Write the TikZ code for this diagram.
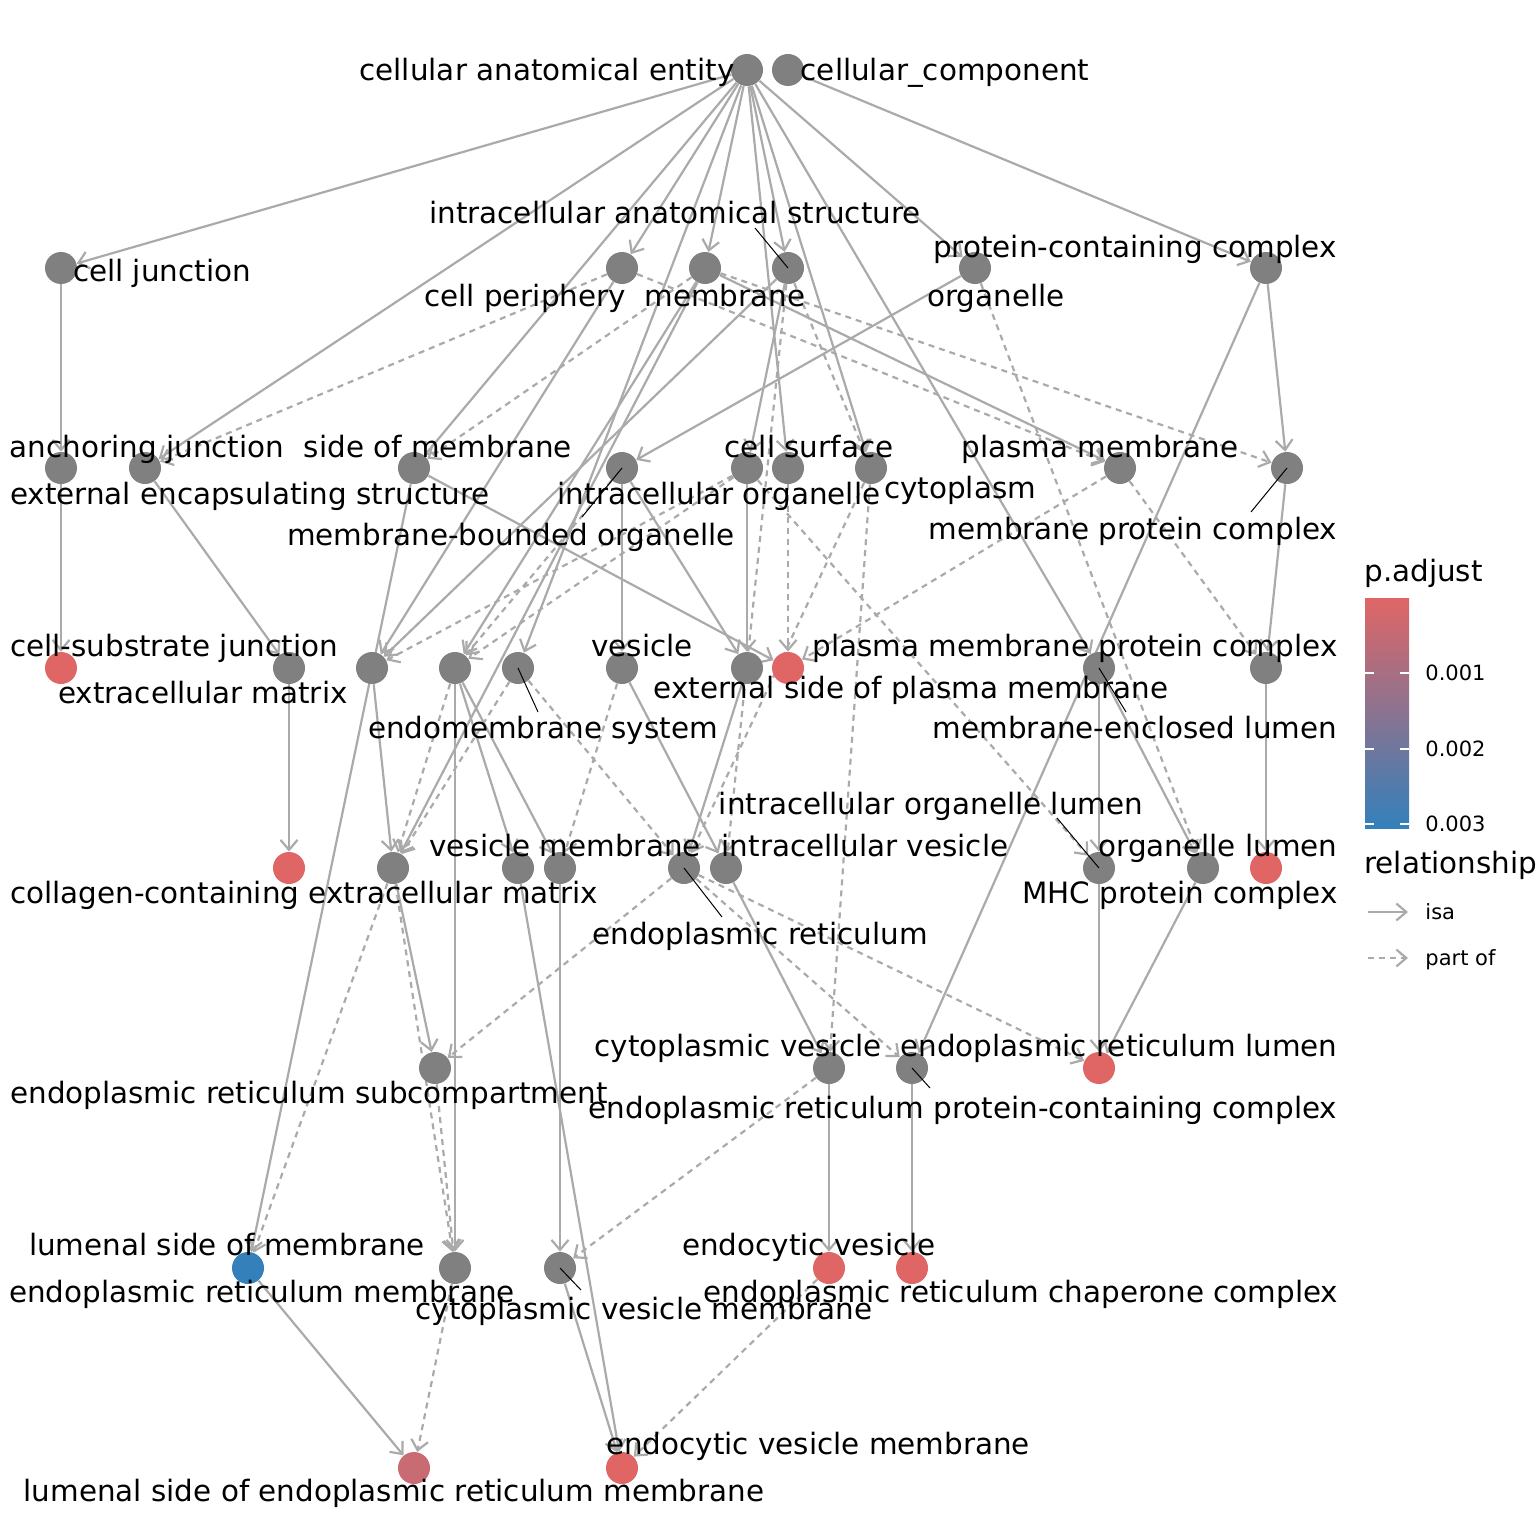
\documentclass[tikz,border=0pt]{standalone}
\usepackage{fontspec}
\setmainfont{DejaVu Sans}
\usetikzlibrary{arrows.meta}
\definecolor{ngray}{HTML}{808080}
\definecolor{nred}{HTML}{E06666}
\definecolor{nblue}{HTML}{3380BB}
\definecolor{npink}{HTML}{C96B72}
\definecolor{egray}{HTML}{AAAAAA}
\pgfdeclarelayer{bg}
\pgfsetlayers{bg,main}
\begin{document}
\begin{tikzpicture}[x=0.5pt,y=-0.5pt,
  gnode/.style={circle,fill=ngray,draw=none,minimum size=16pt,inner sep=0pt},
  rnode/.style={gnode,fill=nred},
  bnode/.style={gnode,fill=nblue},
  pnode/.style={gnode,fill=npink},
  isaedge/.style={draw=egray,line width=1.1pt,-{Straight Barb[length=5pt,width=8.5pt]}},
  partedge/.style={isaedge,dash pattern=on 3pt off 2.5pt},
  lbl/.style={font=\fontsize{14.7}{17}\selectfont,inner sep=0pt,anchor=base},
  leg/.style={font=\fontsize{10.5}{12}\selectfont,inner sep=0pt,anchor=base west},
  leader/.style={draw=black,line width=0.5pt}]
\useasboundingbox (0,0) rectangle (1536,1536);
% nodes
\node[gnode] (A0) at (747,70) {};
\node[gnode] (A1) at (788,70) {};
\node[gnode] (B1) at (61,268) {};
\node[gnode] (B2) at (622,268) {};
\node[gnode] (B3) at (705,268) {};
\node[gnode] (B4) at (788,268) {};
\node[gnode] (B5) at (975,268) {};
\node[gnode] (B6) at (1266,268) {};
\node[gnode] (C1) at (61,468) {};
\node[gnode] (C2) at (145,468) {};
\node[gnode] (C3) at (414,468) {};
\node[gnode] (C4) at (622,468) {};
\node[gnode] (C5) at (747,468) {};
\node[gnode] (C6) at (788,468) {};
\node[gnode] (C7) at (871,468) {};
\node[gnode] (C8) at (1120,468) {};
\node[gnode] (C9) at (1287,468) {};
\node[rnode] (D1) at (61,668) {};
\node[gnode] (D2) at (289,668) {};
\node[gnode] (D3) at (372,668) {};
\node[gnode] (D4) at (455,668) {};
\node[gnode] (D5) at (518,668) {};
\node[gnode] (D6) at (622,668) {};
\node[gnode] (D7) at (747,668) {};
\node[rnode] (D8) at (788,668) {};
\node[gnode] (D9) at (1099,668) {};
\node[gnode] (D10) at (1266,668) {};
\node[rnode] (E1) at (289,868) {};
\node[gnode] (E2) at (393,868) {};
\node[gnode] (E3) at (518,868) {};
\node[gnode] (E4) at (560,868) {};
\node[gnode] (E5) at (684,868) {};
\node[gnode] (E6) at (726,868) {};
\node[gnode] (E7) at (1099,868) {};
\node[gnode] (E8) at (1203,868) {};
\node[rnode] (E9) at (1266,868) {};
\node[gnode] (F1) at (435,1068) {};
\node[gnode] (F2) at (829,1068) {};
\node[gnode] (F3) at (912,1068) {};
\node[rnode] (F4) at (1099,1068) {};
\node[bnode] (G1) at (248,1268) {};
\node[gnode] (G2) at (455,1268) {};
\node[gnode] (G3) at (560,1268) {};
\node[rnode] (G4) at (829,1268) {};
\node[rnode] (G5) at (912,1268) {};
\node[pnode] (H1) at (414,1468) {};
\node[rnode] (H2) at (622,1468) {};
% edges
\begin{pgfonlayer}{bg}
\foreach \s/\t in {A0/B1,A0/B2,A0/B3,A0/B4,A0/B5,A0/C2,A0/C3,A0/C6,A0/C7,A0/D9,A0/D5,
  A1/B6,B1/C1,C1/D1,C2/D2,D2/E1,B3/C8,B6/C9,C9/D10,D10/E9,B6/F3,B5/C4,B4/C5,
  C4/D6,C4/D7,C5/D7,C3/D8,C3/G1,B2/D3,B4/D3,B3/D4,B3/E2,D3/E2,D4/G2,D4/E3,D4/E4,
  E4/G3,E3/H2,G3/H2,D6/E6,E6/F2,F2/G4,D7/E5,F3/G5,D9/E7,E7/F4,D9/E8,E8/F4,E2/F1,G1/H1}
  \draw[isaedge] (\s) -- (\t);
\foreach \s/\t in {B2/C2,B3/C3,B2/C8,B3/C9,B4/C7,B5/E8,C8/D8,C8/D10,C7/F2,C7/E5,
  F2/G3,G4/H2,G2/H1,E5/F1,E5/F3,E5/F4,D5/E5,D5/E2,D6/E4,C5/E7,C5/D3,C5/D4,C4/D4,
  C6/D8,B4/E6,D4/E2,E2/G1,E2/G2,F1/G2}
  \draw[partedge] (\s) -- (\t);
\end{pgfonlayer}
% leader lines
\coordinate (l1) at (755,228); \draw[leader] (l1) -- (B4.center);
\coordinate (l2) at (582,517); \draw[leader] (l2) -- (C4.center);
\coordinate (l3) at (1251,512); \draw[leader] (l3) -- (C9.center);
\coordinate (l4) at (538,712); \draw[leader] (l4) -- (D5.center);
\coordinate (l5) at (1126,712); \draw[leader] (l5) -- (D9.center);
\coordinate (l6) at (1057,818); \draw[leader] (l6) -- (E7.center);
\coordinate (l7) at (722,917); \draw[leader] (l7) -- (E5.center);
\coordinate (l8) at (930,1088); \draw[leader] (l8) -- (F3.center);
\coordinate (l9) at (581,1290); \draw[leader] (l9) -- (G3.center);
% labels
\node[lbl] (tA0) at (547,81) {cellular anatomical entity};
\node[lbl] (tA1) at (945,81) {cellular\_component};
\node[lbl] (tB4) at (675,223) {intracellular anatomical structure};
\node[lbl] (tB1) at (162,281) {cell junction};
\node[lbl] (tB6) at (1135,257) {protein-containing complex};
\node[lbl] (tB2) at (525,306) {cell periphery};
\node[lbl] (tB3) at (725,306) {membrane};
\node[lbl] (tB5) at (996,306) {organelle};
\node[lbl] (tC1) at (147,457) {anchoring junction};
\node[lbl] (tC3) at (438,457) {side of membrane};
\node[lbl] (tC6) at (809,457) {cell surface};
\node[lbl] (tC8) at (1100,457) {plasma membrane};
\node[lbl] (tC2) at (250,504) {external encapsulating structure};
\node[lbl] (tC5) at (719,504) {intracellular organelle};
\node[lbl] (tC7) at (960,498) {cytoplasm};
\node[lbl] (tC4) at (511,545) {membrane-bounded organelle};
\node[lbl] (tC9) at (1133,539) {membrane protein complex};
\node[lbl] (tD1) at (174,656) {cell-substrate junction};
\node[lbl] (tD6) at (642,656) {vesicle};
\node[lbl] (tD10) at (1075,656) {plasma membrane protein complex};
\node[lbl] (tD2) at (203,703) {extracellular matrix};
\node[lbl] (tD8) at (911,698) {external side of plasma membrane};
\node[lbl] (tD5) at (543,738) {endomembrane system};
\node[lbl] (tD9) at (1135,738) {membrane-enclosed lumen};
\node[lbl] (tE7) at (931,814) {intracellular organelle lumen};
\node[lbl] (tE4) at (565,856) {vesicle membrane};
\node[lbl] (tE6) at (865,856) {intracellular vesicle};
\node[lbl] (tE8) at (1218,856) {organelle lumen};
\node[lbl] (tE1) at (304,903) {collagen-containing extracellular matrix};
\node[lbl] (tE9) at (1180,903) {MHC protein complex};
\node[lbl] (tE5) at (760,944) {endoplasmic reticulum};
\node[lbl] (tF2) at (738,1056) {cytoplasmic vesicle};
\node[lbl] (tF4) at (1119,1056) {endoplasmic reticulum lumen};
\node[lbl] (tF1) at (309,1103) {endoplasmic reticulum subcompartment};
\node[lbl] (tF3) at (963,1118) {endoplasmic reticulum protein-containing complex};
\node[lbl] (tG1) at (227,1255) {lumenal side of membrane};
\node[lbl] (tG4) at (809,1255) {endocytic vesicle};
\node[lbl] (tG2) at (262,1302) {endoplasmic reticulum membrane};
\node[lbl] (tG5) at (1021,1302) {endoplasmic reticulum chaperone complex};
\node[lbl] (tG3) at (644,1319) {cytoplasmic vesicle membrane};
\node[lbl] (tH2) at (818,1454) {endocytic vesicle membrane};
\node[lbl] (tH1) at (394,1501) {lumenal side of endoplasmic reticulum membrane};
% legend
\node[lbl,anchor=base west] (lt1) at (1364,581) {p.adjust};
\shade[top color=nred,bottom color=nblue] (1365,598) rectangle (1409,828);
\foreach \yy/\tt in {673/0.001,749/0.002,824/0.003}{
  \draw[white,line width=0.6pt] (1365,\yy) -- (1374,\yy) (1400,\yy) -- (1409,\yy);
  \node[leg] at (1425,\yy+7) {\tt};
}
\node[lbl,anchor=base west] (lt2) at (1364,873) {relationship};
\coordinate (la1) at (1368,912); \coordinate (la2) at (1408,912);
\draw[isaedge] (la1) -- (la2);
\node[leg] (lisa) at (1425,919) {isa};
\coordinate (lb1) at (1368,958); \coordinate (lb2) at (1408,958);
\draw[partedge] (lb1) -- (lb2);
\node[leg] (lpart) at (1425,965) {part of};
\end{tikzpicture}
\end{document}
